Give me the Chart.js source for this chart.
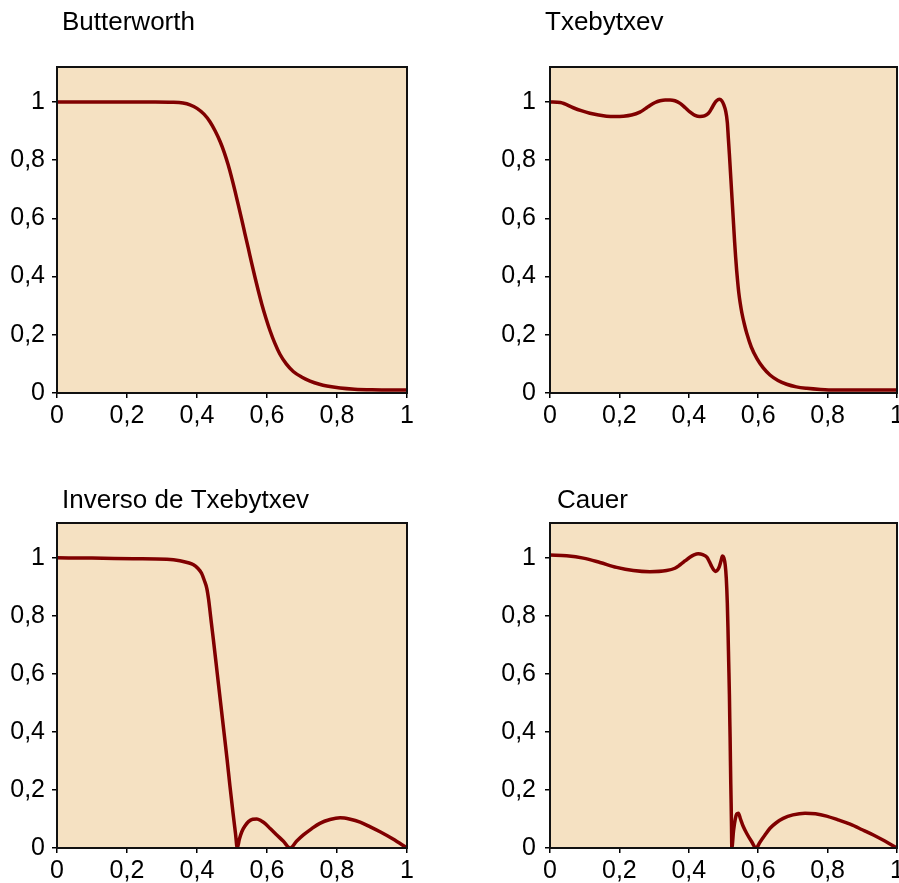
<!DOCTYPE html>
<html>
<head>
<meta charset="utf-8">
<script src="https://cdn.jsdelivr.net/npm/chart.js@4.4.1/dist/chart.umd.min.js"></script>
<style>
html,body{margin:0;padding:0;background:#fff;width:899px;height:883px;overflow:hidden}
canvas{position:absolute;display:block}
</style>
</head>
<body>
<canvas id="c0" width="450" height="440" style="left:0px;top:0px"></canvas>
<canvas id="c1" width="449" height="440" style="left:450px;top:0px"></canvas>
<canvas id="c2" width="450" height="433" style="left:0px;top:450px"></canvas>
<canvas id="c3" width="449" height="433" style="left:450px;top:450px"></canvas>
<script>
// ---- data ----
const titles = ['Butterworth', 'Txebytxev', 'Inverso de Txebytxev', 'Cauer'];
const axisTicks = [0, 0.2, 0.4, 0.6, 0.8, 1];
const tickLabels = ['0', '0,2', '0,4', '0,6', '0,8', '1'];

const butterFreq = [0, 0.1, 0.2, 0.28, 0.33, 0.36, 0.38, 0.40, 0.42, 0.437, 0.452, 0.466, 0.478, 0.489, 0.499, 0.509, 0.518, 0.528, 0.537, 0.547, 0.556, 0.566, 0.575, 0.585, 0.597, 0.609, 0.622, 0.637, 0.655, 0.675, 0.70, 0.723, 0.75, 0.771, 0.809, 0.85, 0.9, 1.0];
const butterGain = [1.0, 1.0, 1.0, 1.0, 0.999, 0.996, 0.99, 0.978, 0.958, 0.932, 0.9, 0.864, 0.826, 0.784, 0.74, 0.692, 0.646, 0.595, 0.547, 0.495, 0.447, 0.396, 0.352, 0.306, 0.257, 0.213, 0.172, 0.133, 0.1, 0.074, 0.054, 0.041, 0.03, 0.024, 0.017, 0.013, 0.011, 0.01];

const chebFreq = [0, 0.03, 0.067, 0.09, 0.115, 0.14, 0.163, 0.19, 0.211, 0.235, 0.259, 0.275, 0.288, 0.303, 0.317, 0.332, 0.346, 0.36, 0.375, 0.39, 0.403, 0.418, 0.432, 0.445, 0.456, 0.465, 0.473, 0.48, 0.488, 0.495, 0.501, 0.506, 0.511, 0.514, 0.517, 0.520, 0.523, 0.526, 0.529, 0.532, 0.535, 0.538, 0.541, 0.544, 0.548, 0.553, 0.560, 0.567, 0.58, 0.596, 0.614, 0.634, 0.657, 0.682, 0.71, 0.740, 0.78, 0.82, 1.0];
const chebGain = [1.0, 0.998, 0.98, 0.97, 0.961, 0.955, 0.951, 0.95, 0.951, 0.955, 0.965, 0.977, 0.988, 0.998, 1.004, 1.007, 1.007, 1.004, 0.995, 0.98, 0.966, 0.954, 0.95, 0.952, 0.96, 0.976, 0.993, 1.004, 1.009, 1.004, 0.99, 0.97, 0.93, 0.875, 0.82, 0.76, 0.70, 0.64, 0.58, 0.52, 0.467, 0.42, 0.38, 0.345, 0.31, 0.275, 0.237, 0.205, 0.158, 0.119, 0.087, 0.062, 0.043, 0.030, 0.021, 0.016, 0.012, 0.01, 0.01];

const invFreq = [0, 0.1, 0.218, 0.314, 0.351, 0.375, 0.39, 0.403, 0.413, 0.421, 0.428, 0.433, 0.437, 0.441, 0.447, 0.458, 0.467, 0.477, 0.486, 0.494, 0.503, 0.510, 0.515, 0.521, 0.528, 0.537, 0.547, 0.559, 0.571, 0.583, 0.594, 0.61, 0.628, 0.647, 0.666, 0.685, 0.704, 0.727, 0.751, 0.78, 0.809, 0.838, 0.866, 0.895, 0.923, 0.96, 1.0];
const invGain = [1.0, 0.999, 0.997, 0.995, 0.99, 0.983, 0.976, 0.963, 0.947, 0.922, 0.895, 0.858, 0.818, 0.776, 0.716, 0.6, 0.505, 0.40, 0.305, 0.215, 0.12, 0.05, 0.0, 0.03, 0.056, 0.076, 0.091, 0.099, 0.1, 0.094, 0.085, 0.066, 0.045, 0.023, 0.0, 0.024, 0.045, 0.066, 0.085, 0.098, 0.104, 0.099, 0.089, 0.073, 0.056, 0.031, 0.0];

const cauerFreq = [0, 0.048, 0.096, 0.144, 0.192, 0.24, 0.288, 0.336, 0.36, 0.375, 0.39, 0.403, 0.415, 0.427, 0.44, 0.452, 0.46, 0.466, 0.472, 0.477, 0.483, 0.488, 0.493, 0.497, 0.501, 0.505, 0.508, 0.511, 0.513, 0.515, 0.517, 0.518, 0.519, 0.520, 0.521, 0.522, 0.523, 0.524, 0.529, 0.534, 0.538, 0.543, 0.549, 0.557, 0.567, 0.58, 0.594, 0.605, 0.618, 0.634, 0.652, 0.672, 0.70, 0.735, 0.765, 0.797, 0.83, 0.865, 0.9, 0.932, 0.965, 1.0];
const cauerGain = [1.01, 1.007, 0.999, 0.984, 0.967, 0.956, 0.952, 0.956, 0.964, 0.976, 0.99, 1.002, 1.01, 1.014, 1.011, 1.002, 0.985, 0.970, 0.958, 0.953, 0.958, 0.97, 0.99, 1.006, 1.0, 0.975, 0.93, 0.844, 0.75, 0.64, 0.53, 0.45, 0.384, 0.3, 0.22, 0.154, 0.08, 0.0, 0.06, 0.1, 0.117, 0.12, 0.1, 0.074, 0.05, 0.024, 0.0, 0.02, 0.042, 0.068, 0.087, 0.102, 0.114, 0.12, 0.118, 0.11, 0.097, 0.082, 0.063, 0.045, 0.024, 0.0];

// ---- style / layout ----
const FONT = '"Liberation Sans", Arial, Helvetica, sans-serif';
const LINE_COLOR = '#800000';
const PLOT_BG = 'rgb(245,225,194)';

const panels = [
  {id: 'c0', title: titles[0], freq: butterFreq, gain: butterGain, cx: 0,   cy: 0,   w: 450, h: 440, area: {l: 57,  t: 67,  r: 407, b: 393}, tdx: 5,  tby: 30, ypad: 7},
  {id: 'c1', title: titles[1], freq: chebFreq,   gain: chebGain,   cx: 450, cy: 0,   w: 449, h: 440, area: {l: 550, t: 67,  r: 897, b: 393}, tdx: -5, tby: 30, ypad: 9},
  {id: 'c2', title: titles[2], freq: invFreq,    gain: invGain,    cx: 0,   cy: 450, w: 450, h: 433, area: {l: 57,  t: 523, r: 407, b: 848}, tdx: 5,  tby: 57.5, ypad: 7},
  {id: 'c3', title: titles[3], freq: cauerFreq,  gain: cauerGain,  cx: 450, cy: 450, w: 449, h: 433, area: {l: 550, t: 523, r: 897, b: 848}, tdx: 7,  tby: 57.5, ypad: 9}
];

const Y_AXIS_W = 57;
const X_AXIS_H = 35;

const panelDeco = {
  id: 'panelDeco',
  beforeDatasetsDraw(chart) {
    const a = chart.chartArea, ctx = chart.ctx;
    ctx.save();
    ctx.fillStyle = PLOT_BG;
    ctx.fillRect(a.left, a.top, a.right - a.left, a.bottom - a.top);
    ctx.restore();
  },
  afterDatasetsDraw(chart, args, opts) {
    const a = chart.chartArea, ctx = chart.ctx;
    ctx.save();
    ctx.strokeStyle = '#111';
    ctx.lineWidth = 2;
    ctx.strokeRect(a.left, a.top, a.right - a.left, a.bottom - a.top);
    ctx.fillStyle = '#000';
    ctx.font = '26px ' + FONT;
    ctx.textAlign = 'left';
    ctx.textBaseline = 'alphabetic';
    ctx.fillText(opts.text, a.left + opts.dx, opts.baseline);
    ctx.restore();
  }
};

function tickSetup(scale) {
  scale.ticks = axisTicks.map(v => ({value: v}));
}

panels.forEach(p => {
  const pad = {
    left: p.area.l - p.cx - Y_AXIS_W,
    top: p.area.t - p.cy,
    right: p.cx + p.w - p.area.r,
    bottom: p.cy + p.h - p.area.b - X_AXIS_H
  };
  new Chart(document.getElementById(p.id), {
    type: 'line',
    data: {
      datasets: [{
        data: p.freq.map((f, i) => ({x: f, y: p.gain[i]})),
        borderColor: LINE_COLOR,
        borderWidth: 3.5,
        pointRadius: 0,
        fill: false,
        cubicInterpolationMode: 'monotone',
        borderCapStyle: 'round',
        borderJoinStyle: 'round'
      }]
    },
    options: {
      responsive: false,
      animation: false,
      devicePixelRatio: 1,
      events: [],
      layout: {padding: pad},
      plugins: {
        legend: {display: false},
        tooltip: {enabled: false},
        title: {display: false},
        panelDeco: {text: p.title, dx: p.tdx, baseline: p.tby}
      },
      scales: {
        x: {
          type: 'linear',
          min: 0,
          max: 1,
          afterBuildTicks: tickSetup,
          afterFit(s) { s.height = X_AXIS_H; s.paddingLeft = 0; s.paddingRight = 0; },
          border: {display: false},
          grid: {display: true, drawOnChartArea: false, drawTicks: true, tickLength: 5, color: '#000', lineWidth: 1.5},
          ticks: {
            color: '#000',
            font: {family: FONT, size: 25},
            padding: 3,
            maxRotation: 0,
            autoSkip: false,
            callback: (v, i) => tickLabels[i]
          }
        },
        y: {
          type: 'linear',
          min: 0,
          max: 1.12,
          afterBuildTicks: tickSetup,
          afterFit(s) { s.width = Y_AXIS_W; s.paddingTop = 0; s.paddingBottom = 0; },
          border: {display: false},
          grid: {display: true, drawOnChartArea: false, drawTicks: true, tickLength: 5, color: '#000', lineWidth: 1.5},
          ticks: {
            color: '#000',
            font: {family: FONT, size: 25},
            padding: p.ypad,
            autoSkip: false,
            callback: (v, i) => tickLabels[i]
          }
        }
      }
    },
    plugins: [panelDeco]
  });
});
</script>
</body>
</html>
